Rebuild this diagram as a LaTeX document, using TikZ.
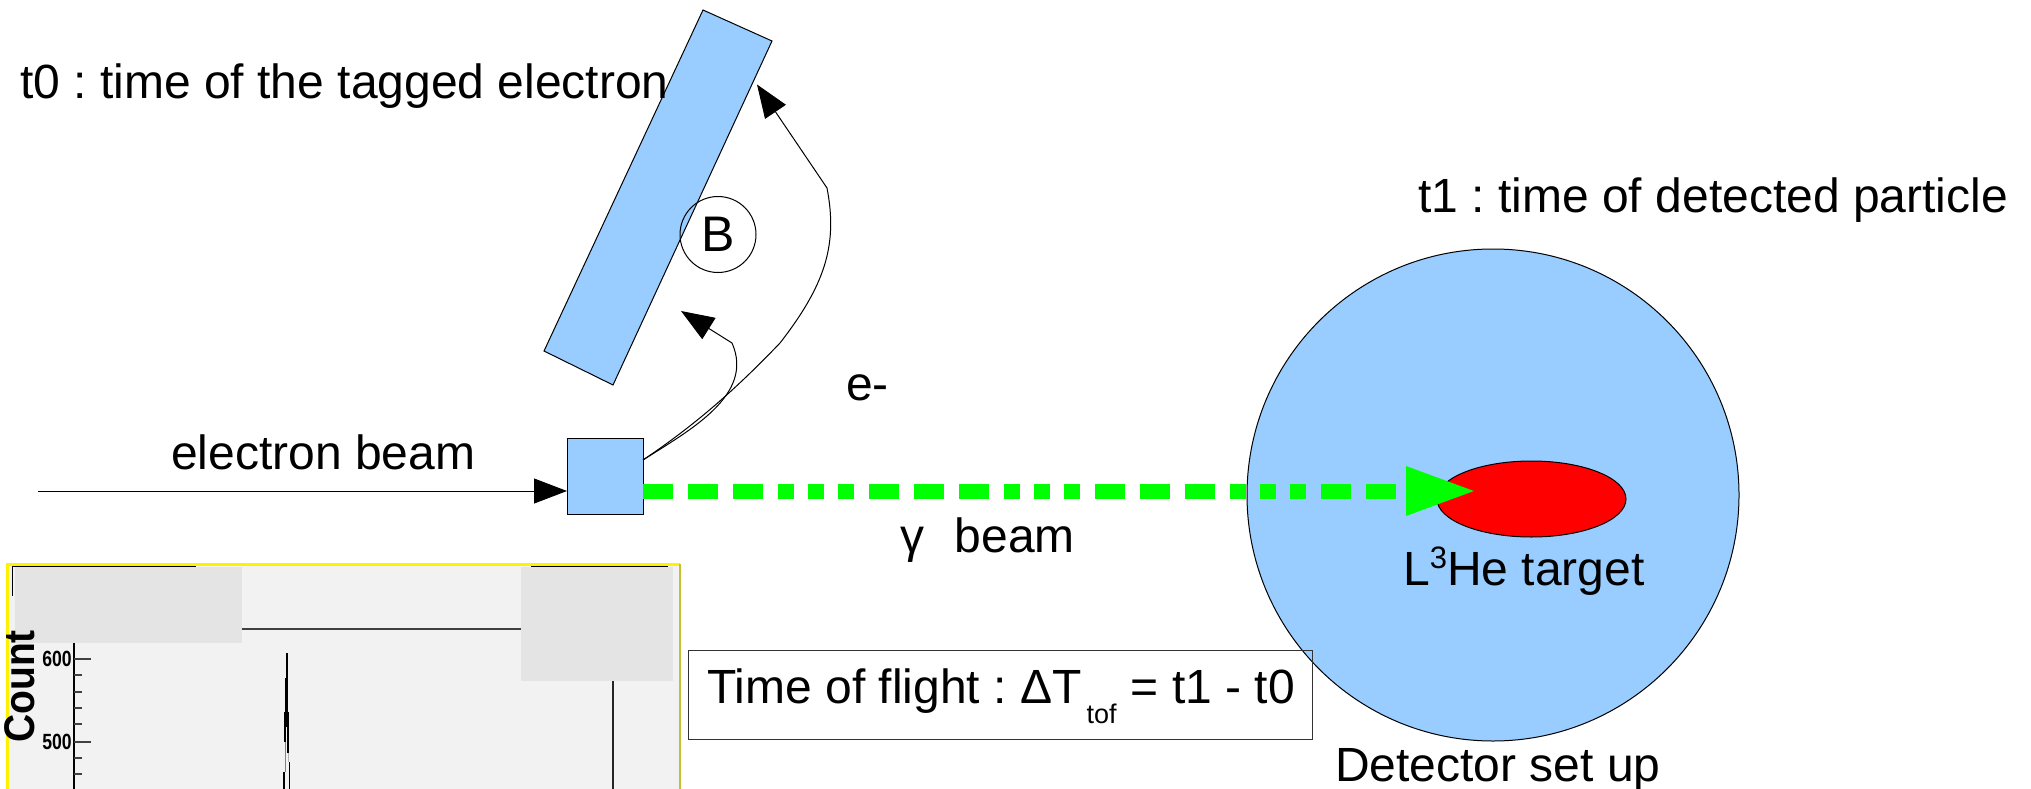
\documentclass[tikz,border=0pt]{standalone}
\usepackage{fontspec}
\setmainfont{Liberation Sans}
\usetikzlibrary{arrows.meta,shapes.geometric}
\definecolor{detblue}{HTML}{99CCFF}
\definecolor{histbg}{HTML}{F2F2F2}
\definecolor{patch}{HTML}{E4E4E4}
\frenchspacing
\tikzset{
  lbl/.style={anchor=base west,inner sep=0pt,font=\fontsize{48}{48}\selectfont,text=black},
  thin line/.style={draw=black,line width=1pt},
  solidtip/.style={-{Triangle[length=33pt,width=25pt,fill=black]}},
  blueshape/.style={fill=detblue,draw=black,line width=1pt},
  tick/.style={draw=black!75,line width=1.6pt},
  axnum/.style={inner sep=0pt,font=\bfseries\fontsize{22}{22}\selectfont,xscale=.8},
}
\begin{document}
\begin{tikzpicture}[x=1pt,y=-1pt]
\useasboundingbox (0,0) rectangle (2031,789);
\clip (0,0) rectangle (2031,789);
% histogram
\fill[histbg] (7,564) rectangle (680,789);
\draw[draw=black,line width=1.5pt] (12.5,596) -- (12.5,566) -- (196,566);
\draw[draw=black,line width=1.5pt] (531,566) -- (668,566);
\fill[patch] (15,567) rectangle (242,643);
\fill[patch] (521,567) rectangle (673,681);
\draw[draw=black!75,line width=2pt] (242,628.5) -- (521,628.5);
\draw[draw=yellow,line width=3pt] (7,789) -- (7,564) -- (680,564);
\draw[draw=yellow!75!black,line width=2.5pt] (680,564) -- (680,789);
\draw[draw=black,line width=1.2pt] (74,643) -- (74,789);
\foreach \yy in {659,742} \draw[tick] (74,\yy) -- (91,\yy);
\foreach \yy in {675,692,708,724,758,774} \draw[tick] (74,\yy) -- (82,\yy);
\node[axnum] (n600) at (57,659) {600};
\node[axnum] (n500) at (57,742) {500};
\node[inner sep=0pt,rotate=90,anchor=base west,yscale=1.1,font=\bfseries\fontsize{39}{39}\selectfont] (cnt) at (34,743) {Count};
\fill[black] (286,653) rectangle (288,678);
\fill[black] (285.3,678) rectangle (288,712);
\fill[black] (284.3,712) rectangle (289.3,727);
\fill[black] (284.3,727) rectangle (286,742);
\fill[black] (287,727) rectangle (289,753);
\fill[black!50] (285,742) rectangle (285.8,772);
\fill[black!30] (288,753) rectangle (289,762);
\fill[black] (288.7,762) rectangle (290,789);
\fill[black] (283.3,772) rectangle (284.7,789);
\draw[draw=black!85,line width=1.2pt] (613,681) -- (613,789);
% tagger
\draw[blueshape] (703,10) -- (772,41) -- (613,385) -- (544,351) -- cycle;
\node[circle,draw=black,line width=1pt,minimum size=76pt,inner sep=0pt,font=\fontsize{50}{50}\selectfont] (B) at (718,234.5) {B};
% detector
\node[circle,blueshape,minimum size=492pt,inner sep=0pt] (det) at (1493,495) {};
\node[ellipse,draw=black,line width=1pt,fill=red,minimum width=189pt,minimum height=76pt,inner sep=0pt] (tgt) at (1531.5,499) {};
% radiator
\node[rectangle,blueshape,minimum size=76pt,inner sep=0pt] (rad) at (605,476) {};
% beams
\coordinate (beamstart) at (38,491);
\coordinate (beamend) at (567,491);
\coordinate (gammastart) at (643,491);
\coordinate (gammaend) at (1477,491);
\coordinate (eorig) at (643,460);
\coordinate (t1) at (757,84.5);
\coordinate (t2) at (681,311);
\draw[thin line,solidtip] (beamstart) -- (beamend);
\draw[draw=green,line width=15pt,dash pattern=on 30pt off 15pt on 30pt off 15pt on 30pt off 15pt on 16pt off 14pt on 16pt off 14pt on 16pt off 15pt,-{Triangle[length=71pt,width=45pt,fill=green]}] (gammastart) -- (gammaend);
\draw[thin line,solidtip] (eorig) .. controls (695,425) and (735,390) .. (780,343) .. controls (825,285) and (838,245) .. (827,188) -- (t1);
\draw[thin line,solidtip] (eorig) .. controls (690,430) and (755,395) .. (732,343) -- (t2);
% labels
\node[lbl] (tz) at (20,99) {t0 : time of the tagged electron};
\node[lbl] (to) at (1418,212) {t1 : time of detected particle};
\node[lbl] (eb) at (171,469) {electron beam};
\node[lbl] (em) at (846,400) {e-};
\node[lbl] (gb) at (900,552) {γ\hspace{4pt}\ \ beam};
\node[lbl] (tl) at (1403,585) {L\raisebox{17pt}{\fontsize{31}{31}\selectfont 3}He target};
\node[lbl] (ds) at (1335,781) {Detector set up};
\node[draw=black!80,line width=1pt,minimum width=624pt,minimum height=89pt,inner sep=0pt] (tofbox) at (1000,694.5) {};
\node[lbl] (tof) at (707,703) {Time of flight : ΔT\hspace{5pt}\raisebox{-20pt}{\fontsize{27}{27}\selectfont tof}\hspace{1pt} = t1 - t0};
\end{tikzpicture}
\end{document}
